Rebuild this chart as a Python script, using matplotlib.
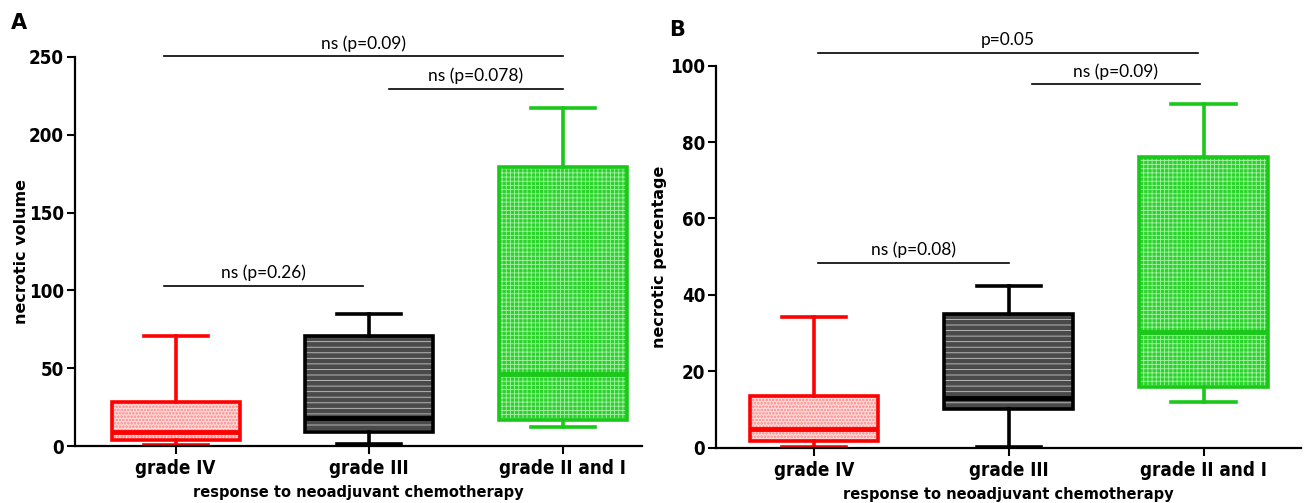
import matplotlib
matplotlib.use("Agg")
import matplotlib.pyplot as plt
from matplotlib.patches import PathPatch

# ----------------------------
# Data
# ----------------------------
categories = ["grade IV", "grade III", "grade II and I"]

# panel A: necrotic volume
vol_low = [0.5, 1, 12]
vol_q1 = [3.6, 9, 16.5]
vol_med = [9, 18, 46]
vol_q3 = [28.5, 71, 179]
vol_high = [71, 85, 217]

# panel B: necrotic percentage
pct_low = [0.3, 0.2, 12]
pct_q1 = [1.8, 10, 15.8]
pct_med = [4.8, 13, 30.4]
pct_q3 = [13.5, 35, 76.2]
pct_high = [34.3, 42.3, 90]

# significance bars: (start, end, height, label)
sig_a = [(-0.06, 2.0, 250.5, "ns (p=0.09)"),
         (1.1, 2.0, 229.5, "ns (p=0.078)"),
         (-0.06, 0.97, 103, "ns (p=0.26)")]
sig_b = [(0.02, 1.97, 103.4, "p=0.05"),
         (1.12, 1.98, 95.1, "ns (p=0.09)"),
         (0.02, 1.0, 48.4, "ns (p=0.08)")]

# ----------------------------
# Styles
# ----------------------------
line_colors = ["#ff0000", "#000000", "#19c819"]
fill_colors = ["#ffd9d9", "#4a4a4a", "#2ad42a"]
hatch_colors = ["#ff9c9c", "#c8c8c8", "#a8f0a8"]
hatches = ["ooooo", "---", "++++"]

plt.rcParams["hatch.linewidth"] = 0.6


def draw_panel(ax, low, q1, med, q3, high, sigs, ylim, yticks, ylabel, ylab_x):
    for i in range(len(categories)):
        stats = [{"whislo": low[i], "q1": q1[i], "med": med[i],
                  "q3": q3[i], "whishi": high[i]}]
        c = line_colors[i]
        res = ax.bxp(stats, positions=[i], widths=0.66, patch_artist=True,
                     showfliers=False,
                     boxprops=dict(facecolor=fill_colors[i],
                                   edgecolor=hatch_colors[i],
                                   hatch=hatches[i], linewidth=0),
                     medianprops=dict(color=c, linewidth=3.5,
                                      solid_capstyle="butt"),
                     whiskerprops=dict(color=c, linewidth=2.6),
                     capprops=dict(color=c, linewidth=2.6),
                     capwidths=0.33)
        for b in res["boxes"]:
            ax.add_patch(PathPatch(b.get_path(), fill=False, edgecolor=c,
                                   linewidth=2.6, zorder=3))
        for art in res["whiskers"] + res["caps"]:
            art.set_clip_on(False)

    for x0, x1, h, lab in sigs:
        ax.plot([x0, x1], [h, h], color="black", linewidth=1.2,
                clip_on=False)
        ax.text((x0 + x1) / 2, h + ylim[1] * 0.012, lab, ha="center",
                va="bottom", fontsize=12.5, family="Lato")

    ax.set_ylim(*ylim)
    ax.set_yticks(yticks)
    ax.set_xticks(range(len(categories)))
    ax.set_xticklabels(categories)
    for lab in ax.get_xticklabels() + ax.get_yticklabels():
        lab.set_fontweight("bold")
        lab.set_fontsize(13.5)
        lab.set_fontstretch("condensed")
    ax.tick_params(axis="both", width=1.5, length=6, direction="out")
    ax.tick_params(axis="y", pad=2)
    ax.spines["top"].set_visible(False)
    ax.spines["right"].set_visible(False)
    ax.spines["left"].set_linewidth(1.6)
    ax.spines["bottom"].set_linewidth(1.6)
    ax.set_ylabel(ylabel, fontsize=11.5, fontweight="bold")
    ax.yaxis.set_label_coords(ylab_x, 0.5)
    ax.set_xlabel("response to neoadjuvant chemotherapy", fontsize=10.5,
                  fontweight="bold", labelpad=5)


fig = plt.figure(figsize=(13.05, 5.03), dpi=100)

ax_a = fig.add_axes([0.0575, 0.1133, 0.4345, 0.7734])
ax_a.set_xlim(-0.52, 2.41)
draw_panel(ax_a, vol_low, vol_q1, vol_med, vol_q3, vol_high, sig_a,
           (0, 250), [0, 50, 100, 150, 200, 250], "necrotic volume", -0.081)

ax_b = fig.add_axes([0.549, 0.11, 0.448, 0.7594])
ax_b.set_xlim(-0.5, 2.5)
draw_panel(ax_b, pct_low, pct_q1, pct_med, pct_q3, pct_high, sig_b,
           (0, 100), [0, 20, 40, 60, 80, 100], "necrotic percentage", -0.084)

fig.text(0.008, 0.955, "A", fontsize=15, fontweight="bold", va="center")
fig.text(0.513, 0.94, "B", fontsize=15, fontweight="bold", va="center")

fig.savefig("out.png", dpi=100)
